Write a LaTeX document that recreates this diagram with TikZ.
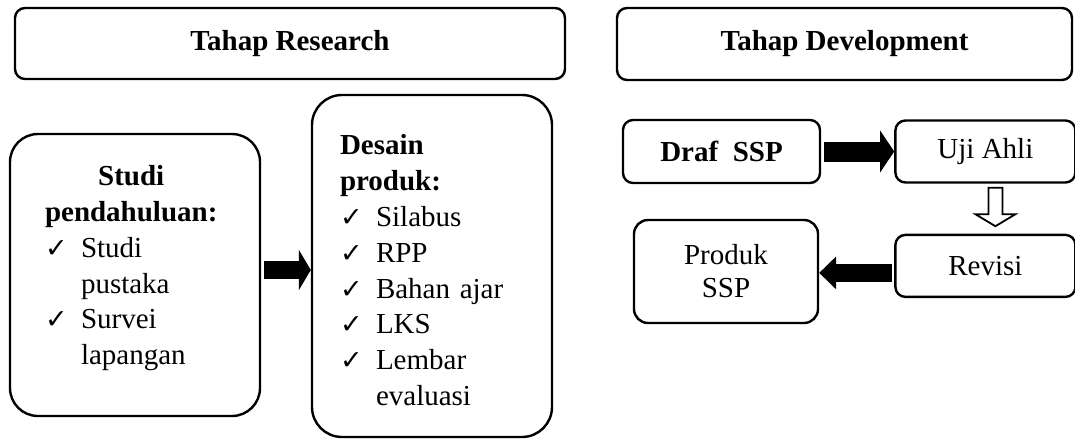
\documentclass[tikz,border=0pt]{standalone}
\usepackage{fontspec}
\setmainfont{Liberation Serif}
\newfontfamily\symfont{DejaVu Sans}
\usetikzlibrary{arrows.meta,positioning,calc}
\newcommand{\chk}{\makebox[36pt][l]{\symfont\bfseries\fontsize{27}{27}\selectfont ✓}}

\begin{document}
\begin{tikzpicture}[x=1pt, y=-1pt,
  box/.style={draw, line width=2.4pt, rounded corners=10pt, inner sep=0pt, align=center, font=\fontsize{29}{35.8}\selectfont},
  title/.style={box, font=\fontsize{29}{35.8}\selectfont\bfseries},
  bigbox/.style={box, rounded corners=30pt, align=left},
  fatarr/.style n args={3}{line width=#1, -{Triangle[length=#2, width=#3]}},
  hollow/.style={draw, line width=1.8pt, line join=miter, fill=white}
]
  \useasboundingbox (0,0) rectangle (1075,439);

  % two stages
  \node[title, minimum width=550pt, minimum height=71pt] (research) at (290,43.5) {Tahap Research};
  \node[title, minimum width=455pt, minimum height=72pt] (develop) at (844.5,44) {Tahap Development};

  % research stage
  \node[bigbox, text width=180pt, minimum width=250pt, minimum height=282pt, rounded corners=28pt] (studi) at (135,275) {%
    \begin{tabular}{@{}l@{}}
      \multicolumn{1}{@{}c@{}}{\textbf{Studi}}\\
      \textbf{pendahuluan:}\\
      \chk Studi\\
      \hspace*{36pt}pustaka\\
      \chk Survei\\
      \hspace*{36pt}lapangan\\[14pt]
    \end{tabular}};
  \node[bigbox, text width=184pt, minimum width=240pt, minimum height=342pt] (desain) at (432,266) {%
    \begin{tabular}{@{}l@{}}
      \rule{0pt}{39pt}\textbf{Desain}\\
      \textbf{produk:}\\
      \chk Silabus\\
      \chk RPP\\
      \chk Bahan ajar\\
      \chk LKS\\
      \chk Lembar\\
      \hspace*{36pt}evaluasi
    \end{tabular}};

  % development stage
  \node[box, font=\fontsize{29}{35.8}\selectfont\bfseries, minimum width=197pt, minimum height=63pt] (draf) at (721.5,151.5) {Draf\ \ SSP};
  \node[box, minimum width=180pt, minimum height=62pt, right=73pt of draf] (uji) {Uji Ahli};
  \node[box, minimum width=180pt, minimum height=62pt, below=50pt of uji] (revisi) {Revisi};
  \node[box, rounded corners=14pt, minimum width=184pt, minimum height=103pt, font=\fontsize{29}{33}\selectfont] (produk) at (726,271.5) {Produk\\SSP};

  \draw[fatarr={18pt}{12pt}{40pt}, shorten <=3pt] ([yshift=5pt]studi.east) -- ([yshift=5pt]studi.east -| desain.west);
  \draw[fatarr={20pt}{14pt}{41pt}, shorten <=3pt] (draf.east) -- (draf.east -| uji.west);
  \draw[fatarr={18pt}{17pt}{32pt}, shorten <=2pt] ([yshift=-7pt]revisi.west) -- ([yshift=-7pt]revisi.west -| produk.east);

  \coordinate (dtop) at ([xshift=10pt,yshift=-4pt]uji.south);
  \draw[hollow] (dtop) ++(-7,0) -- ++(0,26.5) -- ++(-13,0) -- ++(20,12) -- ++(20,-12) -- ++(-13,0) -- ++(0,-26.5) -- cycle;
\end{tikzpicture}
\end{document}
